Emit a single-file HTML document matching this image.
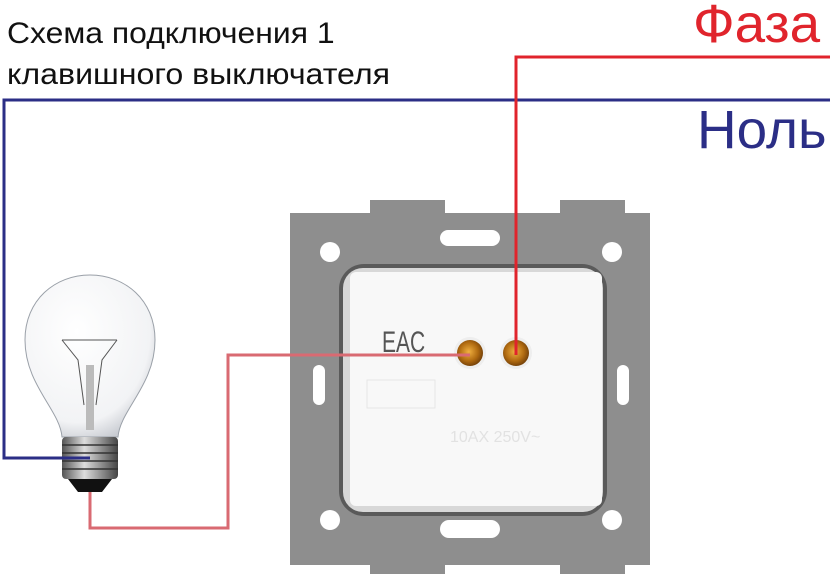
<!DOCTYPE html>
<html><head><meta charset="utf-8"><style>
html,body{margin:0;padding:0;background:#fff;}
svg{display:block;}
text{font-family:"Liberation Sans",sans-serif;}
</style></head><body>
<svg width="830" height="574" viewBox="0 0 830 574" xmlns="http://www.w3.org/2000/svg">
<defs>
<radialGradient id="glass" cx="0.4" cy="0.35" r="0.7">
<stop offset="0" stop-color="#ffffff"/><stop offset="0.8" stop-color="#f2f3f5"/><stop offset="1" stop-color="#c9ccd2"/>
</radialGradient>
<linearGradient id="base" x1="0" x2="1"><stop offset="0" stop-color="#555"/><stop offset="0.4" stop-color="#ddd"/><stop offset="1" stop-color="#444"/></linearGradient>
<radialGradient id="gold" cx="0.45" cy="0.45" r="0.6"><stop offset="0" stop-color="#f0b040"/><stop offset="0.6" stop-color="#b06a10"/><stop offset="1" stop-color="#6a3a08"/></radialGradient>
</defs>
<text transform="translate(7,43) scale(0.78,1)" x="0" y="0" font-size="30" textLength="420" lengthAdjust="spacingAndGlyphs" fill="#111">Схема подключения 1</text>
<text transform="translate(7,84) scale(0.78,1)" x="0" y="0" font-size="30" textLength="491" lengthAdjust="spacingAndGlyphs" fill="#111">клавишного выключателя</text>
<text transform="translate(693,42) scale(0.82,1)" x="0" y="0" font-size="54" textLength="155" lengthAdjust="spacingAndGlyphs" fill="#e0242c">Фаза</text>
<text transform="translate(697,148) scale(0.82,1)" x="0" y="0" font-size="54" textLength="158" lengthAdjust="spacingAndGlyphs" fill="#2b2e86">Ноль</text>

<!-- switch plate -->
<path d="M290 213 H370 V200 H445 V213 H560 V200 H625 V213 H650 V565 H625 V574 H560 V565 H445 V574 H370 V565 H290 Z" fill="#8e8e8e"/>
<rect x="440" y="230" width="60" height="16" rx="8" fill="#fff"/>
<circle cx="330" cy="252" r="10" fill="#fff"/><circle cx="612" cy="252" r="10" fill="#fff"/>
<circle cx="330" cy="520" r="10" fill="#fff"/><circle cx="612" cy="520" r="10" fill="#fff"/>
<rect x="440" y="520" width="60" height="18" rx="9" fill="#fff"/>
<rect x="313" y="365" width="12" height="40" rx="6" fill="#fff"/><rect x="617" y="365" width="12" height="40" rx="6" fill="#fff"/>
<rect x="339" y="264" width="268" height="252" rx="25" fill="#5a5a5a"/>
<rect x="343" y="268" width="260" height="244" rx="20" fill="#d8d8d8"/>
<rect x="350" y="272" width="252" height="234" rx="6" fill="#f8f8f8"/>
<text transform="translate(382,352) scale(0.7,1)" font-size="30" fill="#555">EAC</text>
<rect x="367" y="380" width="68" height="28" fill="none" stroke="#e6e6e6"/>
<text x="450" y="442" font-size="16" fill="#e2e2e2">10AX 250V~</text>
<circle cx="470" cy="353" r="16" fill="#eee"/><circle cx="470" cy="353" r="13" fill="url(#gold)"/>
<circle cx="516" cy="353" r="16" fill="#eee"/><circle cx="516" cy="353" r="13" fill="url(#gold)"/>

<!-- bulb -->
<path d="M62 437 C60 410 25 385 25 340 C25 300 55 275 90 275 C125 275 155 300 155 340 C155 385 120 410 118 437 Z" fill="url(#glass)" stroke="#9aa0a8" stroke-width="1"/>
<path d="M62 340 L78 360 L84 405 M117 340 L102 360 L96 405 M62 340 H117" fill="none" stroke="#555" stroke-width="1"/>
<rect x="86" y="365" width="8" height="65" fill="#bbb"/>
<rect x="62" y="437" width="56" height="42" rx="4" fill="url(#base)"/>
<path d="M62 445 H118 M62 453 H118 M62 461 H118 M62 469 H118" stroke="#333" stroke-width="1.5"/>
<path d="M68 479 H112 L102 492 H78 Z" fill="#111"/>

<!-- wires -->
<polyline points="830,100 4,100 4,458 90,458" fill="none" stroke="#2b2e86" stroke-width="3"/>
<polyline points="830,57 516,57 516,355" fill="none" stroke="#e0242c" stroke-width="3"/>
<polyline points="470,355 228,355 228,528 90,528 90,492" fill="none" stroke="#d96a72" stroke-width="3"/>
</svg>
</body></html>
